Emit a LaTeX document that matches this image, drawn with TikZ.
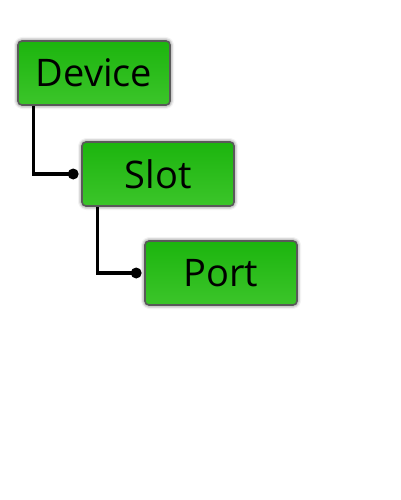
\documentclass[tikz,border=0pt]{standalone}
\usepackage{fontspec}
\setmainfont{Open Sans}
\usetikzlibrary{shadows.blur}

\definecolor{boxtop}{HTML}{1CB50E}
\definecolor{boxbot}{HTML}{3CC52A}
\tikzset{
  box/.style={rectangle, rounded corners=4pt, draw=black!65, line width=1.6pt,
    top color=boxtop, bottom color=boxbot,
    minimum width=152pt, minimum height=64pt, inner sep=0pt,
    blur shadow={shadow xshift=0pt, shadow yshift=0pt, shadow blur radius=4pt, shadow opacity=75},
    font=\fontsize{38}{42}\selectfont},
  link/.style={line width=3.2pt, black}
}

\begin{document}
\begin{tikzpicture}[x=1pt, y=-1pt]

\useasboundingbox (0,0) rectangle (400,500);

\node[box] (device) at (94,73) {Device};
\node[box] (slot) at (158,174) {Slot};
\node[box] (port) at (221,273) {Port};

\coordinate (slotdot) at ([xshift=-8pt]slot.west);
\coordinate (portdot) at ([xshift=-8pt]port.west);

\draw[link] ([xshift=16pt]device.south west) |- (slotdot);
\draw[link] ([xshift=16pt]slot.south west) |- (portdot);

\foreach \d in {slotdot, portdot}
    \fill (\d) circle (5.5pt);

\end{tikzpicture}
\end{document}
